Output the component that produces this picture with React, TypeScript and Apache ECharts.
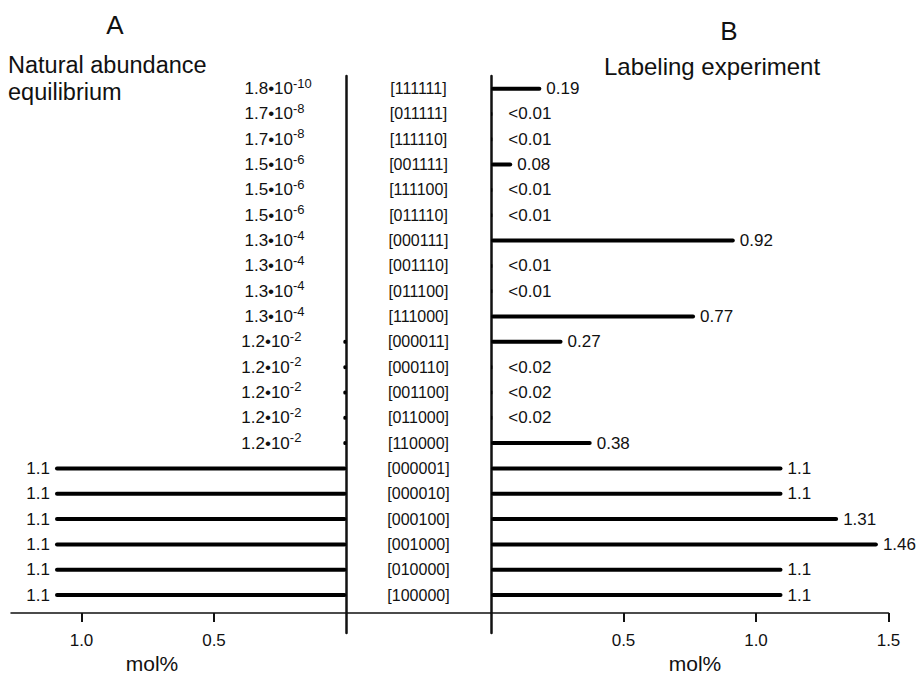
import React, { useEffect, useRef } from 'react';
import * as echarts from 'echarts';

const categories = [
  '[111111]', '[011111]', '[111110]', '[001111]', '[111100]', '[011110]', '[000111]',
  '[001110]', '[011100]', '[111000]', '[000011]', '[000110]', '[001100]', '[011000]',
  '[110000]', '[000001]', '[000010]', '[000100]', '[001000]', '[010000]', '[100000]',
];

const naturalValues = [
  1.8e-10, 1.7e-8, 1.7e-8, 1.5e-6, 1.5e-6, 1.5e-6, 1.3e-4, 1.3e-4, 1.3e-4, 1.3e-4,
  1.2e-2, 1.2e-2, 1.2e-2, 1.2e-2, 1.2e-2, 1.1, 1.1, 1.1, 1.1, 1.1, 1.1,
];
const naturalMantissa = [
  '1.8', '1.7', '1.7', '1.5', '1.5', '1.5', '1.3', '1.3', '1.3', '1.3',
  '1.2', '1.2', '1.2', '1.2', '1.2', '1.1', '1.1', '1.1', '1.1', '1.1', '1.1',
];
const naturalExponent = [
  '-10', '-8', '-8', '-6', '-6', '-6', '-4', '-4', '-4', '-4',
  '-2', '-2', '-2', '-2', '-2', '', '', '', '', '', '',
];

const labelingValues = [
  0.19, 0.005, 0.005, 0.08, 0.005, 0.005, 0.92, 0.005, 0.005, 0.77,
  0.27, 0.005, 0.005, 0.005, 0.38, 1.1, 1.1, 1.31, 1.46, 1.1, 1.1,
];
const labelingLabels = [
  '0.19', '<0.01', '<0.01', '0.08', '<0.01', '<0.01', '0.92', '<0.01', '<0.01', '0.77',
  '0.27', '<0.02', '<0.02', '<0.02', '0.38', '1.1', '1.1', '1.31', '1.46', '1.1', '1.1',
];

const naturalTicks = [0.5, 1.0];
const labelingTicks = [0.5, 1.0, 1.5];

const FONT = 'Liberation Sans, Arial, Helvetica, sans-serif';
const INK = '#111';

export default function App() {
  const ref = useRef<HTMLDivElement>(null);

  useEffect(() => {
    if (!ref.current) return;
    const chart = echarts.init(ref.current, undefined, { renderer: 'svg' });

    const axisCats = [...categories, ''];
    const gridTop = 76;
    const gridHeight = 557;
    const axisOffset = -20;

    const option: any = {
      animation: false,
      backgroundColor: '#fff',
      textStyle: { fontFamily: FONT },
      grid: [
        { left: 11, width: 335.5, top: gridTop, height: gridHeight, containLabel: false, outerBoundsMode: 'none' },
        { left: 346.5, width: 144.5, top: gridTop, height: gridHeight, containLabel: false, outerBoundsMode: 'none' },
        { left: 491, width: 397.5, top: gridTop, height: gridHeight, containLabel: false, outerBoundsMode: 'none' },
      ],
      xAxis: [
        {
          type: 'value', gridIndex: 0, inverse: true, min: 0, max: 1.266, position: 'bottom', offset: axisOffset,
          axisLine: { show: true, onZero: false, lineStyle: { color: INK, width: 1.5 } },
          axisTick: { show: true, customValues: naturalTicks, length: 9, lineStyle: { color: INK, width: 2 } },
          axisLabel: { show: true, customValues: naturalTicks, formatter: (v: number) => v.toFixed(1), margin: 19, fontSize: 17, color: INK, fontFamily: FONT },
          splitLine: { show: false },
        },
        {
          type: 'value', gridIndex: 1, min: 0, max: 1, position: 'bottom', offset: axisOffset,
          axisLine: { show: true, onZero: false, lineStyle: { color: INK, width: 1.5 } },
          axisTick: { show: false }, axisLabel: { show: false }, splitLine: { show: false },
        },
        {
          type: 'value', gridIndex: 2, min: 0, max: 1.5, position: 'bottom', offset: axisOffset,
          axisLine: { show: true, onZero: false, lineStyle: { color: INK, width: 1.5 } },
          axisTick: { show: true, customValues: labelingTicks, length: 9, lineStyle: { color: INK, width: 2 } },
          axisLabel: { show: true, customValues: labelingTicks, formatter: (v: number) => v.toFixed(1), margin: 19, fontSize: 17, color: INK, fontFamily: FONT },
          splitLine: { show: false },
        },
      ],
      yAxis: [
        {
          type: 'category', gridIndex: 0, data: axisCats, inverse: true, position: 'right',
          axisLine: { show: true, onZero: false, lineStyle: { color: INK, width: 2.5 } },
          axisTick: { show: false }, axisLabel: { show: false }, splitLine: { show: false },
        },
        {
          type: 'category', gridIndex: 1, data: axisCats, inverse: true, show: false,
        },
        {
          type: 'category', gridIndex: 2, data: axisCats, inverse: true, position: 'left',
          axisLine: { show: true, onZero: false, lineStyle: { color: INK, width: 2.5 } },
          axisTick: { show: false },
          axisLabel: { show: true, margin: 72.5, align: 'center', fontSize: 16, color: INK, fontFamily: FONT },
          splitLine: { show: false },
        },
      ],
      series: [
        {
          type: 'bar', xAxisIndex: 0, yAxisIndex: 0, barWidth: 4,
          itemStyle: { color: '#000', borderRadius: 2 },
          data: [
            ...naturalValues.map((v) => ({
              value: v,
              label: v < 0.1 ? { align: 'left', distance: 102 } : { distance: 5 },
            })),
            null,
          ],
          label: {
            show: true, position: 'left', color: INK,
            formatter: (p: any) => {
              const i = p.dataIndex;
              const e = naturalExponent[i];
              return e ? `{m|${naturalMantissa[i]}•10}{s|${e}}` : `{m|${naturalMantissa[i]}}`;
            },
            rich: {
              m: { fontSize: 17, fontFamily: FONT, color: INK, lineHeight: 24 },
              s: { fontSize: 13, fontFamily: FONT, color: INK, lineHeight: 13, verticalAlign: 'top' },
            },
          },
        },
        {
          type: 'bar', xAxisIndex: 2, yAxisIndex: 2, barWidth: 4,
          itemStyle: { color: '#000', borderRadius: 2 },
          data: [
            ...labelingValues.map((v, i) => ({
              value: v,
              label: { distance: labelingLabels[i].startsWith('<') ? 16 : 5 },
            })),
            null,
          ],
          label: {
            show: true, position: 'right', color: INK, fontSize: 17, fontFamily: FONT,
            formatter: (p: any) => labelingLabels[p.dataIndex],
          },
        },
      ],
      graphic: [
        { type: 'text', x: 115, y: 25, style: { text: 'A', font: `26px ${FONT}`, fill: INK, textAlign: 'center', textVerticalAlign: 'middle' } },
        { type: 'text', x: 729, y: 31, style: { text: 'B', font: `26px ${FONT}`, fill: INK, textAlign: 'center', textVerticalAlign: 'middle' } },
        { type: 'text', x: 8, y: 52, style: { text: 'Natural abundance\nequilibrium', font: `23.5px ${FONT}`, lineHeight: 26.5, fill: INK, textAlign: 'left', textVerticalAlign: 'top' } },
        { type: 'text', x: 712, y: 66, style: { text: 'Labeling experiment', font: `24px ${FONT}`, fill: INK, textAlign: 'center', textVerticalAlign: 'middle' } },
        { type: 'text', x: 152, y: 663, style: { text: 'mol%', font: `21px ${FONT}`, fill: INK, textAlign: 'center', textVerticalAlign: 'middle' } },
        { type: 'text', x: 695, y: 663, style: { text: 'mol%', font: `21px ${FONT}`, fill: INK, textAlign: 'center', textVerticalAlign: 'middle' } },
      ],
    };

    chart.setOption(option);
    return () => chart.dispose();
  }, []);

  return (
    <div
      ref={ref}
      style={{ position: 'fixed', left: 0, top: 0, width: 917, height: 674, background: '#fff' }}
    />
  );
}
